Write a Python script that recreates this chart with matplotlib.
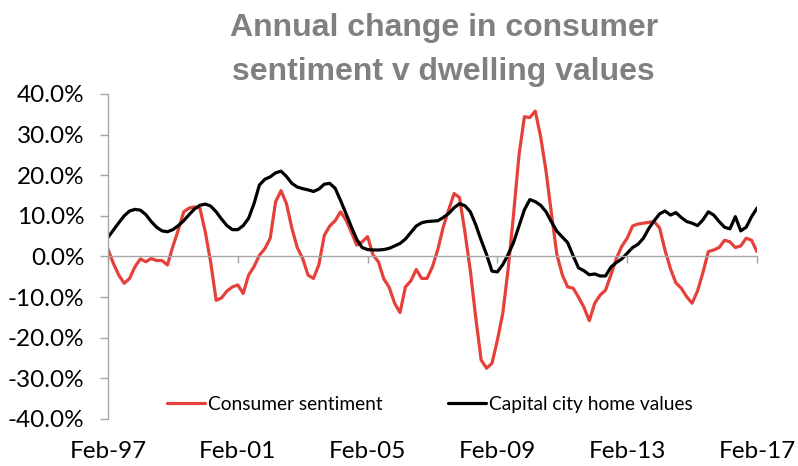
import matplotlib
matplotlib.use("Agg")
import matplotlib.pyplot as plt
import numpy as np

plt.rcParams['font.family'] = ['Lato', 'DejaVu Sans']

# months since Feb-97, sampled every two months
months = list(range(0, 241, 2))

# annual % change, consumer sentiment
sentiment = [
    1.8, -1.7, -4.6, -6.6, -5.4, -2.5, -0.6, -1.3, -0.5, -1.0,
    -1.0, -2.1, 2.5, 6.5, 11.0, 11.9, 12.2, 11.9, 6.0, -1.5,
    -10.8, -10.2, -8.5, -7.5, -7.0, -9.1, -4.6, -2.5, 0.3, 1.9,
    4.5, 13.5, 16.2, 13.0, 7.0, 2.2, -0.5, -4.6, -5.4, -2.0,
    5.2, 7.5, 8.8, 11.0, 9.0, 6.0, 2.8, 3.6, 4.9, 0.4,
    -1.3, -5.5, -7.6, -11.5, -13.8, -7.5, -6.0, -3.2, -5.4, -5.4,
    -2.5, 1.8, 7.3, 11.5, 15.5, 14.5, 6.0, -3.5, -15.0, -25.5,
    -27.5, -26.3, -20.6, -14.0, -3.0, 10.5, 25.0, 34.4, 34.2, 35.8,
    29.5, 21.0, 10.5, 0.5, -4.5, -7.5, -7.8, -10.0, -12.5, -15.8,
    -11.5, -9.5, -8.3, -4.5, -0.5, 2.5, 4.5, 7.5, 8.0, 8.2,
    8.4, 8.6, 7.0, 1.5, -3.0, -6.5, -7.8, -9.9, -11.5, -8.5,
    -4.0, 1.2, 1.6, 2.2, 4.0, 3.6, 2.2, 2.6, 4.5, 4.0,
    1.2,
]

# annual % change, capital city home values
home_values = [
    4.7, 6.5, 8.3, 10.0, 11.2, 11.6, 11.4, 10.3, 8.6, 7.2,
    6.3, 6.1, 6.6, 7.6, 8.8, 10.3, 11.7, 12.6, 12.9, 12.4,
    11.0, 9.2, 7.6, 6.6, 6.6, 7.6, 9.4, 13.0, 17.6, 19.0,
    19.6, 20.6, 21.0, 19.7, 18.0, 17.1, 16.7, 16.4, 16.0, 16.6,
    17.8, 18.0, 16.8, 13.8, 10.6, 7.3, 4.2, 2.2, 1.7, 1.6,
    1.6, 1.7, 2.0, 2.6, 3.2, 4.3, 5.9, 7.5, 8.3, 8.6,
    8.7, 8.8, 9.6, 10.6, 12.0, 13.0, 12.5, 11.0, 7.8, 4.0,
    0.5, -3.6, -3.8, -2.0, 0.5, 3.5, 7.5, 11.5, 14.0, 13.5,
    12.6, 11.0, 8.5, 6.2, 4.8, 3.4, 0.2, -2.8, -3.5, -4.5,
    -4.3, -4.8, -4.8, -2.6, -1.5, -0.6, 0.8, 2.2, 3.0, 4.5,
    6.9, 8.8, 10.5, 11.2, 10.2, 10.8, 9.6, 8.6, 8.2, 7.6,
    9.0, 11.0, 10.2, 8.6, 7.2, 6.8, 9.8, 6.3, 7.2, 9.8,
    11.9,
]

tick_months = [0, 48, 96, 144, 192, 240]
tick_labels = ['Feb-97', 'Feb-01', 'Feb-05', 'Feb-09', 'Feb-13', 'Feb-17']
y_ticks = list(range(-40, 41, 10))
title_lines = ['Annual change in consumer', 'sentiment v dwelling values']

grey = '#a6a6a6'

fig = plt.figure(figsize=(7.98, 4.66), dpi=100)
ax = fig.add_axes([0.1353, 0.1009, 0.8133, 0.6974])

ax.plot(months, sentiment, color='#e5413a', lw=2.3, label='Consumer sentiment',
        solid_capstyle='round')
ax.plot(months, home_values, color='black', lw=2.3, label='Capital city home values',
        solid_capstyle='round')

ax.set_xlim(0, 240)
ax.set_ylim(-40, 40)

# axis line sits on zero, so set spine position before the tick labels
for side in ('top', 'right'):
    ax.spines[side].set_visible(False)
ax.spines['bottom'].set_position(('data', 0))
ax.spines['left'].set_color(grey)
ax.spines['bottom'].set_color(grey)
ax.spines['left'].set_linewidth(1.0)
ax.spines['bottom'].set_linewidth(1.0)

ax.set_yticks(y_ticks)
ax.set_yticklabels([f'{v:.1f}%' for v in y_ticks])
ax.set_xticks(tick_months)
ax.set_xticklabels(tick_labels)
ax.tick_params(axis='y', color=grey, length=6, width=1.0, pad=11, labelsize=17.5)
ax.tick_params(axis='x', color=grey, length=5, width=1.0, pad=128, labelsize=17.5)

ax.legend(loc='lower center', bbox_to_anchor=(0.496, -0.035), ncol=2, frameon=False,
          fontsize=13.8, handlelength=2.0, handletextpad=0.15, columnspacing=3.4)

# two-line bold title, one baseline per line
for line, yb in zip(title_lines, (0.9227, 0.8283)):
    fig.text(0.556, yb, line, ha='center', va='baseline', fontsize=23,
             fontweight='bold', color='#808080', family='Liberation Sans')

fig.savefig('out.png', dpi=100)
